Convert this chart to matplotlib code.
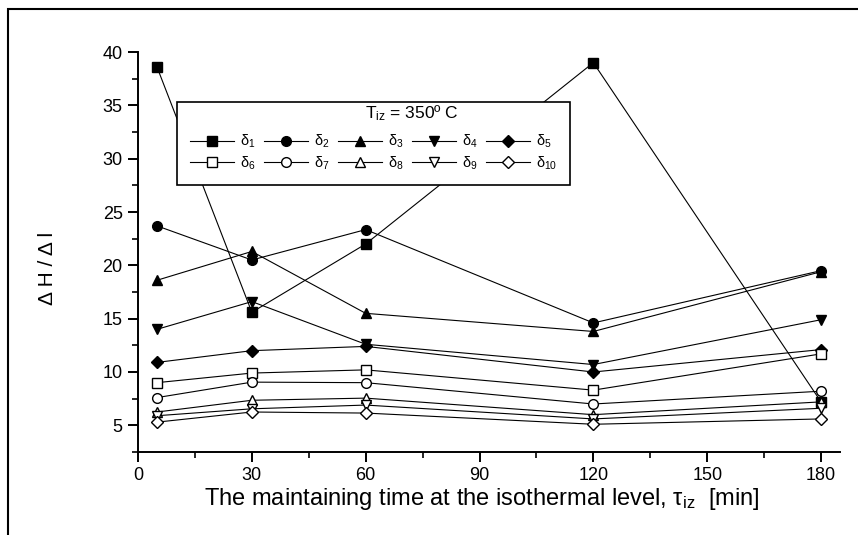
import matplotlib.pyplot as plt
from matplotlib.patches import Rectangle
from matplotlib.ticker import MultipleLocator

plt.rcParams['font.family'] = ['Liberation Sans', 'DejaVu Sans']
plt.rcParams['mathtext.fontset'] = 'custom'
plt.rcParams['mathtext.rm'] = 'Liberation Sans'
plt.rcParams['mathtext.it'] = 'Liberation Sans'

# --- data ---
time_min = [5, 30, 60, 120, 180]
d1 = [38.6, 15.6, 22.0, 39.0, 7.2]
d2 = [23.7, 20.5, 23.35, 14.6, 19.5]
d3 = [18.6, 21.3, 15.5, 13.8, 19.4]
d4 = [14.0, 16.6, 12.6, 10.7, 14.9]
d5 = [10.9, 12.0, 12.4, 10.0, 12.1]
d6 = [9.0, 9.9, 10.2, 8.3, 11.7]
d7 = [7.6, 9.05, 9.0, 7.0, 8.2]
d8 = [6.25, 7.35, 7.55, 6.0, 7.2]
d9 = [5.9, 6.55, 6.9, 5.6, 6.6]
d10 = [5.3, 6.25, 6.15, 5.1, 5.6]

series = [d1, d2, d3, d4, d5, d6, d7, d8, d9, d10]
markers = ['s', 'o', '^', 'v', 'D', 's', 'o', '^', 'v', 'D']
filled = [True] * 5 + [False] * 5
labels = [r'δ$_{%d}$' % (i + 1) for i in range(10)]

fig = plt.figure(figsize=(8.58, 5.35), dpi=100)
ax = fig.add_axes([138 / 858, 1 - 452 / 535, 702 / 858, 400 / 535])

handles = []
for ys, m, f, lab in zip(series, markers, filled, labels):
    ms = 6 if m == 'D' else 7
    h, = ax.plot(time_min, ys, color='black', lw=0.8, marker=m, ms=ms,
                 mfc='black' if f else 'white', mec='black', mew=1.0,
                 label=lab, clip_on=False)
    handles.append(h)

ax.set_xlim(0, 185)
ax.set_ylim(2.5, 40)
ax.xaxis.set_major_locator(MultipleLocator(30))
ax.xaxis.set_minor_locator(MultipleLocator(15))
ax.yaxis.set_minor_locator(MultipleLocator(2.5))
ax.set_yticks([5, 10, 15, 20, 25, 30, 35, 40])

for s in ['top', 'right']:
    ax.spines[s].set_visible(False)
for s in ['left', 'bottom']:
    ax.spines[s].set_linewidth(1.4)
ax.tick_params(which='major', direction='out', length=7, width=1.4,
               labelsize=13, pad=4)
ax.tick_params(which='minor', direction='out', length=4.5, width=1.2)

ax.set_xlabel(r'The maintaining time at the isothermal level, τ$_{\mathrm{iz}}$  [min]',
              fontsize=17)
ax.xaxis.set_label_coords(0.49, -0.085)
ax.set_ylabel('Δ H / Δ l', fontsize=15)
ax.yaxis.set_label_coords(-0.115, 0.46)

# legend filled row by row: delta1..5 on top, delta6..10 below
order = [0, 5, 1, 6, 2, 7, 3, 8, 4, 9]
leg = ax.legend([handles[i] for i in order], [labels[i] for i in order],
                ncol=5, loc='upper left', bbox_to_anchor=(0.0456, 0.8925),
                title=' ', title_fontsize=11,
                fontsize=10.5, handlelength=3.0, handletextpad=0.4,
                columnspacing=0.6, borderpad=0.9, labelspacing=0.25,
                fancybox=False, framealpha=1, edgecolor='black')
leg.get_frame().set_linewidth(1.2)
fig.text(412 / 858, 1 - 113 / 535, r'T$_{\mathrm{iz}}$ = 350º C', fontsize=12.5,
         ha='center', va='center')

# outer frame of the original figure (only top and left visible)
fig.patches.append(Rectangle((8 / 858, -0.1), 1.2, 1 - 9 / 535 + 0.1,
                             transform=fig.transFigure, fill=False,
                             edgecolor='black', lw=1.5))

fig.savefig('out.png', dpi=100)
